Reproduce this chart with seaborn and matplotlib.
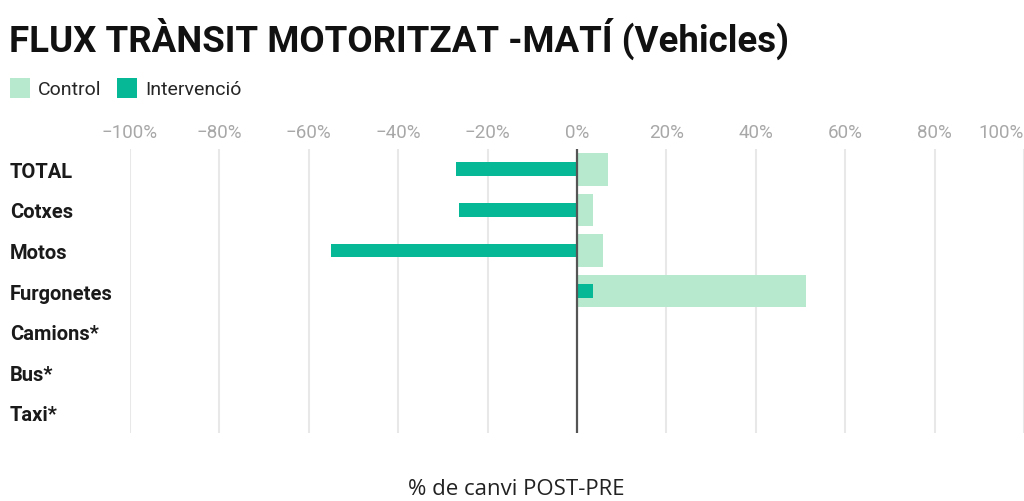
import matplotlib
matplotlib.use("Agg")
import matplotlib.pyplot as plt
from matplotlib.patches import Patch
import seaborn as sns
import pandas as pd
import numpy as np

categories = ["TOTAL", "Cotxes", "Motos", "Furgonetes", "Camions*", "Bus*", "Taxi*"]
control = [6.9, 3.6, 5.8, 51.3, np.nan, np.nan, np.nan]
intervencio = [-27.1, -26.4, -55.0, 3.6, np.nan, np.nan, np.nan]
xticks = [-100, -80, -60, -40, -20, 0, 20, 40, 60, 80, 100]
xticklabels = ["\u2212100%", "\u221280%", "\u221260%", "\u221240%", "\u221220%", "0%",
               "20%", "40%", "60%", "80%", "100%"]

c_control = "#b7e9cf"
c_interv = "#06b896"

sns.set_theme(style="white")
plt.rcParams["font.family"] = ["Roboto", "DejaVu Sans"]

df_c = pd.DataFrame({"cat": categories, "val": control})
df_i = pd.DataFrame({"cat": categories, "val": intervencio})

fig = plt.figure(figsize=(10.24, 5.02), dpi=100)
ax = fig.add_axes([130/1024, 1-434/502, 1-130/1024, (434-150)/502])

for x in xticks:
    if x != 0:
        ax.axvline(x, color="#e8e8e8", lw=1.5, zorder=0)

sns.barplot(data=df_c, x="val", y="cat", order=categories, color=c_control,
            width=0.8, orient="h", errorbar=None, ax=ax, saturation=1, zorder=2,
            linewidth=0, edgecolor="none")
sns.barplot(data=df_i, x="val", y="cat", order=categories, color=c_interv,
            width=0.34, orient="h", errorbar=None, ax=ax, saturation=1, zorder=3,
            linewidth=0, edgecolor="none")
ax.axvline(0, color="#555555", lw=1.6, zorder=4)

ax.set_xlim(-100, 100)
ax.set_ylim(6.5, -0.5)
ax.set_xlabel("")
ax.set_ylabel("")
for s in ax.spines.values():
    s.set_visible(False)

ax.xaxis.tick_top()
ax.set_xticks(xticks)
ax.set_xticklabels(xticklabels)
ax.tick_params(axis="x", length=0, pad=6, labelsize=13.5, labelcolor="#a8a8a8")
labs = ax.get_xticklabels()
labs[-1].set_horizontalalignment("right")

ax.set_yticks(range(len(categories)))
ax.set_yticklabels(categories)
ax.tick_params(axis="y", length=0, pad=120*0.72, labelsize=14.5)
for lab in ax.get_yticklabels():
    lab.set_horizontalalignment("left")
    lab.set_fontweight("bold")
    lab.set_color("#1a1a1a")

fig.text(9/1024, 1-39/502, "FLUX TRÀNSIT MOTORITZAT -MATÍ (Vehicles)",
         fontsize=26.4, fontweight="bold", color="#111111", va="center", ha="left")

handles = [Patch(facecolor=c_control, edgecolor="none"), Patch(facecolor=c_interv, edgecolor="none")]
fig.legend(handles, ["Control", "Intervenció"], loc="center left",
           bbox_to_anchor=(-8/1024, 1-89/502), ncol=2, frameon=False,
           handlelength=1.05, handleheight=1.2, handletextpad=0.4, columnspacing=0.8,
           fontsize=14)

fig.text(516/1024, 1-490/502, "% de canvi POST-PRE", fontsize=16,
         family=["Open Sans", "DejaVu Sans"], color="#222222", ha="center", va="center")

fig.savefig("out.png", dpi=100)
